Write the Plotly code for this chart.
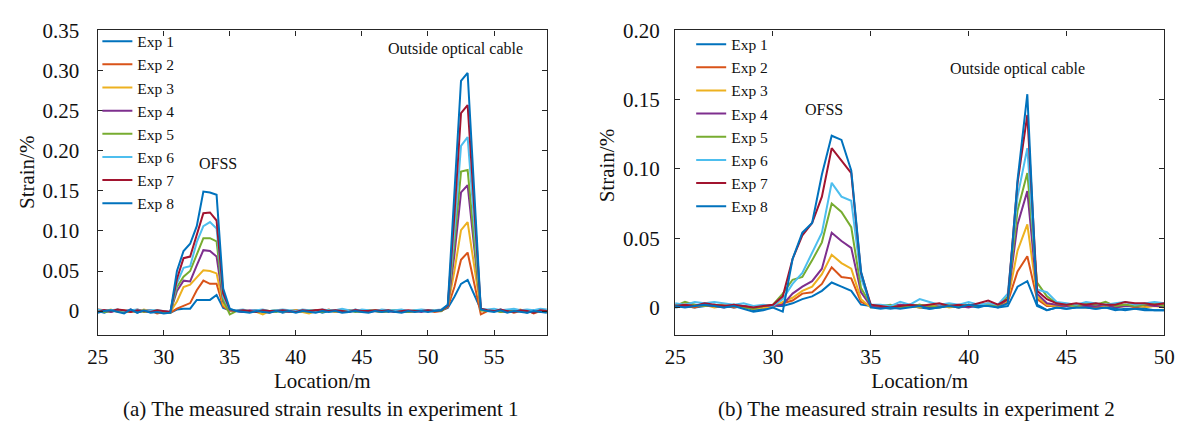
import numpy as np
import plotly.graph_objects as go

# ---- data: panel (a), experiment 1, sampled every 0.5 m from 25 m to 59 m ----
loc_a = np.arange(25.0, 59.01, 0.5)

exp1_a = [0.000, -0.002, 0.001, 0.000, -0.001, 0.001, -0.002, 0.001, 0.000, -0.002, -0.001,
          -0.002, 0.002, 0.003, 0.003, 0.014, 0.014, 0.014, 0.020, 0.004, 0.001,
          0.000, -0.001, 0.000, 0.001, -0.001, 0.000, 0.001, -0.002, 0.000, 0.001,
          -0.001, 0.000, 0.001, -0.002, 0.000, 0.001, 0.000, -0.001, 0.002, 0.000,
          -0.001, 0.001, 0.000, -0.001, 0.001, 0.000, -0.001, 0.000, 0.001, 0.000,
          0.000, 0.001,
          0.004, 0.018, 0.034, 0.039, 0.020, 0.002,
          0.001, 0.000, 0.002, -0.001, 0.000, 0.001, -0.002, 0.001, -0.001, 0.000]
exp2_a = [0.002, 0.001, -0.001, 0.002, 0.000, -0.001, 0.002, 0.000, 0.001, -0.003, -0.001,
          -0.002, 0.003, 0.006, 0.010, 0.026, 0.038, 0.034, 0.034, 0.006, 0.000,
          0.001, 0.000, -0.001, 0.001, 0.000, -0.002, 0.001, 0.000, -0.001, 0.001,
          0.000, -0.001, 0.001, 0.000, 0.002, -0.001, 0.000, 0.001, 0.000, -0.001,
          0.001, 0.000, -0.001, 0.001, 0.000, 0.001, -0.001, 0.000, 0.000, 0.001,
          -0.001, 0.000,
          0.005, 0.030, 0.064, 0.073, 0.036, -0.004,
          0.000, 0.002, -0.001, 0.001, -0.002, 0.000, 0.001, -0.003, 0.000, -0.001]
exp3_a = [0.001, 0.000, 0.002, -0.001, 0.001, 0.000, -0.001, 0.002, 0.000, -0.001, -0.002,
          -0.001, 0.012, 0.030, 0.033, 0.042, 0.051, 0.050, 0.047, 0.008, 0.000,
          0.000, 0.001, 0.000, -0.001, -0.004, 0.000, 0.001, -0.001, 0.000, 0.001,
          -0.001, -0.003, 0.000, 0.001, 0.000, -0.001, 0.001, 0.000, 0.001, -0.001,
          0.000, 0.001, -0.001, 0.000, 0.001, 0.000, 0.000, -0.001, 0.001, 0.000,
          0.000, 0.001,
          0.006, 0.050, 0.101, 0.111, 0.055, 0.001,
          0.001, 0.000, 0.001, -0.001, 0.000, 0.002, -0.001, 0.000, 0.001, -0.001]
exp4_a = [0.000, 0.001, -0.001, 0.001, 0.000, 0.002, -0.001, 0.000, 0.001, -0.001, 0.000,
          -0.001, 0.025, 0.038, 0.037, 0.057, 0.076, 0.075, 0.068, 0.012, 0.001,
          0.000, -0.001, 0.001, 0.000, 0.001, -0.001, 0.000, 0.001, -0.001, 0.000,
          0.001, 0.000, -0.001, 0.001, 0.000, 0.001, -0.001, 0.000, 0.001, 0.000,
          -0.001, 0.000, 0.001, 0.000, -0.001, 0.001, 0.000, 0.000, -0.001, 0.001,
          0.000, 0.000,
          0.006, 0.070, 0.148, 0.157, 0.078, 0.002,
          0.000, 0.001, 0.000, -0.001, 0.001, 0.000, -0.001, 0.001, 0.000, 0.000]
exp5_a = [0.001, -0.001, 0.000, 0.001, -0.001, 0.000, 0.001, -0.001, 0.000, 0.001, -0.001,
          -0.002, 0.030, 0.043, 0.050, 0.071, 0.091, 0.091, 0.087, 0.014, -0.004,
          0.000, 0.001, -0.001, 0.000, 0.001, 0.000, -0.001, 0.001, 0.000, -0.001,
          0.000, 0.001, 0.000, -0.001, 0.001, 0.000, 0.000, 0.001, -0.001, 0.000,
          0.001, 0.000, -0.001, 0.000, 0.001, 0.000, -0.001, 0.001, 0.000, 0.000,
          0.001, 0.000,
          0.007, 0.085, 0.174, 0.176, 0.088, 0.001,
          0.000, 0.001, -0.001, 0.000, 0.001, 0.000, 0.000, -0.001, 0.001, 0.000]
exp6_a = [0.002, 0.000, 0.001, 0.002, 0.000, 0.001, 0.002, 0.000, 0.001, 0.001, 0.000,
          -0.001, 0.035, 0.054, 0.056, 0.086, 0.106, 0.111, 0.103, 0.018, 0.002,
          0.001, 0.002, 0.000, 0.001, 0.002, 0.000, 0.001, 0.002, 0.001, 0.000,
          0.002, 0.001, 0.000, 0.002, 0.001, 0.001, 0.003, 0.001, 0.000, 0.002,
          0.001, 0.000, 0.002, 0.001, 0.001, 0.002, 0.000, 0.001, 0.002, 0.001,
          0.001, 0.002,
          0.008, 0.100, 0.206, 0.217, 0.108, 0.003,
          0.002, 0.003, 0.001, 0.002, 0.003, 0.001, 0.002, 0.001, 0.003, 0.002]
exp7_a = [-0.001, 0.001, 0.000, 0.002, 0.001, -0.001, 0.001, 0.000, -0.001, 0.001, 0.000,
          -0.001, 0.040, 0.066, 0.068, 0.094, 0.122, 0.123, 0.113, 0.022, 0.002,
          0.000, 0.001, 0.000, -0.001, 0.001, 0.000, 0.000, 0.001, 0.000, -0.001,
          0.001, 0.000, 0.001, 0.002, 0.000, 0.001, 0.000, -0.001, 0.001, 0.000,
          0.000, 0.001, 0.000, 0.001, -0.001, 0.000, 0.001, 0.000, 0.000, 0.001,
          0.000, 0.001,
          0.007, 0.120, 0.247, 0.257, 0.128, 0.003,
          0.001, 0.000, 0.002, 0.000, -0.001, 0.001, 0.000, -0.002, 0.001, 0.000]
exp8_a = [-0.002, 0.000, 0.001, -0.001, -0.003, 0.002, -0.002, 0.001, -0.002, -0.001, -0.003,
          -0.002, 0.050, 0.075, 0.084, 0.106, 0.149, 0.148, 0.145, 0.028, 0.003,
          0.000, -0.001, -0.002, 0.000, -0.001, -0.002, 0.000, -0.001, 0.000, -0.002,
          0.000, -0.001, -0.002, 0.000, -0.001, 0.000, -0.002, -0.001, 0.000, -0.001,
          -0.002, 0.000, -0.001, 0.000, -0.001, -0.002, 0.000, -0.001, 0.000, -0.001,
          0.000, 0.001,
          0.008, 0.140, 0.287, 0.297, 0.148, 0.002,
          0.000, -0.001, 0.001, -0.002, 0.000, -0.001, -0.002, 0.000, -0.001, -0.002]

# ---- data: panel (b), experiment 2, sampled every 0.5 m from 25 m to 50 m ----
loc_b = np.arange(25.0, 50.01, 0.5)

exp1_b = [0.000, 0.001, 0.000, 0.001, 0.002, 0.001, 0.000, 0.001, -0.002, -0.001,
          0.001, 0.001, 0.003, 0.006, 0.008, 0.012, 0.018, 0.015, 0.012, 0.002, 0.001,
          0.000, -0.001, 0.000, 0.001, 0.000, -0.001, 0.000, 0.001, 0.000, 0.001, 0.000, 0.002, 0.000,
          0.001, 0.015, 0.019, 0.001, -0.002, 0.000,
          -0.001, 0.000, 0.000, -0.001, 0.000, -0.002, -0.001, -0.001, -0.002, -0.002, -0.002]
exp2_b = [0.002, 0.001, 0.000, 0.002, 0.001, 0.002, 0.000, 0.001, 0.000, 0.001,
          0.001, 0.003, 0.005, 0.010, 0.011, 0.017, 0.029, 0.022, 0.021, 0.004, 0.001,
          0.001, 0.000, 0.001, 0.002, 0.000, 0.001, 0.002, 0.001, 0.000, 0.002, 0.001, 0.003, 0.001,
          0.004, 0.026, 0.037, 0.006, 0.001, 0.001,
          0.001, 0.002, 0.001, 0.000, 0.001, 0.001, 0.002, 0.000, 0.001, 0.001, 0.002]
exp3_b = [0.001, 0.002, 0.001, 0.002, 0.000, 0.001, 0.001, 0.000, -0.001, 0.000,
          0.000, 0.004, 0.007, 0.012, 0.015, 0.024, 0.038, 0.032, 0.028, 0.006, 0.000,
          0.001, 0.000, 0.002, 0.001, 0.000, 0.001, 0.002, 0.000, 0.001, 0.001, 0.002, 0.002, 0.001,
          0.005, 0.041, 0.060, 0.008, 0.002, 0.001,
          0.002, 0.001, 0.000, 0.002, 0.001, 0.000, 0.001, 0.002, 0.000, 0.001, 0.000]
exp4_b = [0.002, 0.001, 0.002, 0.001, 0.001, 0.000, 0.002, 0.001, 0.000, 0.001,
          0.001, 0.002, 0.010, 0.015, 0.019, 0.028, 0.054, 0.048, 0.043, 0.011, 0.001,
          0.000, 0.001, 0.002, 0.001, 0.002, 0.000, 0.001, 0.002, 0.001, 0.000, 0.002, 0.001, 0.001,
          0.006, 0.060, 0.084, 0.010, 0.003, 0.002,
          0.001, 0.002, 0.001, 0.001, 0.002, 0.000, 0.001, 0.001, 0.002, 0.001, 0.001]
exp5_b = [0.001, 0.004, 0.002, 0.001, 0.002, 0.001, 0.002, 0.000, -0.001, 0.001,
          0.002, 0.010, 0.020, 0.022, 0.034, 0.047, 0.075, 0.069, 0.058, 0.014, 0.002,
          0.001, 0.002, 0.000, 0.001, 0.002, 0.001, 0.000, 0.002, 0.001, 0.002, 0.001, 0.002, 0.001,
          0.008, 0.070, 0.097, 0.018, 0.008, 0.003,
          0.002, 0.001, 0.003, 0.002, 0.004, 0.001, 0.002, 0.001, 0.002, 0.003, 0.001]
exp6_b = [0.003, 0.002, 0.004, 0.003, 0.004, 0.003, 0.002, 0.003, 0.001, 0.002,
          0.001, 0.006, 0.017, 0.025, 0.039, 0.054, 0.090, 0.080, 0.077, 0.021, 0.002,
          0.002, 0.001, 0.004, 0.002, 0.006, 0.004, 0.002, 0.003, 0.002, 0.004, 0.002, 0.003, 0.002,
          0.010, 0.080, 0.115, 0.013, 0.011, 0.004,
          0.003, 0.002, 0.004, 0.003, 0.002, 0.003, 0.004, 0.002, 0.003, 0.004, 0.003]
exp7_b = [0.001, 0.002, 0.001, 0.003, 0.002, 0.001, 0.002, 0.001, 0.000, 0.001,
          0.002, 0.008, 0.035, 0.052, 0.061, 0.080, 0.115, 0.106, 0.097, 0.025, 0.002,
          0.001, 0.000, 0.001, 0.002, 0.001, 0.002, 0.003, 0.001, 0.002, 0.001, 0.003, 0.005, 0.002,
          0.006, 0.090, 0.139, 0.012, 0.006, 0.003,
          0.002, 0.003, 0.002, 0.003, 0.002, 0.002, 0.004, 0.003, 0.003, 0.002, 0.003]
exp8_b = [0.001, 0.000, 0.001, 0.002, 0.001, 0.000, 0.001, -0.001, -0.003, -0.002,
          0.000, -0.003, 0.035, 0.054, 0.061, 0.096, 0.124, 0.121, 0.099, 0.026, 0.000,
          -0.001, 0.000, -0.001, 0.000, 0.001, -0.001, 0.000, 0.001, 0.000, 0.002, 0.001, 0.001, 0.000,
          0.003, 0.092, 0.154, 0.002, -0.002, 0.000,
          -0.001, 0.000, 0.000, -0.001, 0.000, -0.001, -0.002, -0.001, -0.001, -0.002, -0.002]

series_names = ["Exp 1", "Exp 2", "Exp 3", "Exp 4", "Exp 5", "Exp 6", "Exp 7", "Exp 8"]
series_a = [exp1_a, exp2_a, exp3_a, exp4_a, exp5_a, exp6_a, exp7_a, exp8_a]
series_b = [exp1_b, exp2_b, exp3_b, exp4_b, exp5_b, exp6_b, exp7_b, exp8_b]

yticks_a = [0, 0.05, 0.10, 0.15, 0.20, 0.25, 0.30, 0.35]
yticktext_a = ["0", "0.05", "0.10", "0.15", "0.20", "0.25", "0.30", "0.35"]
yticks_b = [0, 0.05, 0.10, 0.15, 0.20]
yticktext_b = ["0", "0.05", "0.10", "0.15", "0.20"]
xticks_a = [25, 30, 35, 40, 45, 50, 55]
xticks_b = [25, 30, 35, 40, 45, 50]

# MATLAB-style line colour order (the eighth line wraps back to the first colour)
colors = ["#0072BD", "#D95319", "#EDB120", "#7E2F8E",
          "#77AC30", "#4DBEEE", "#A2142F", "#0072BD"]

FONT = "Liberation Serif"
INK = "#262626"
TEXT = "#111111"

fig = go.Figure()
for name, ys, c in zip(series_names, series_a, colors):
    fig.add_trace(go.Scatter(x=loc_a, y=ys, mode="lines", name=name,
                             line=dict(color=c, width=2),
                             xaxis="x", yaxis="y", legend="legend"))
for name, ys, c in zip(series_names, series_b, colors):
    fig.add_trace(go.Scatter(x=loc_b, y=ys, mode="lines", name=name,
                             line=dict(color=c, width=2),
                             xaxis="x2", yaxis="y2", legend="legend2"))

W, H = 1189, 427
y_dom = [1 - 332.5 / H, 1 - 19 / H]

axis_style = dict(showline=True, linecolor=INK, linewidth=1.3, mirror="ticks",
                  ticks="inside", ticklen=5, tickwidth=1.3, tickcolor=INK,
                  showgrid=False, zeroline=False,
                  tickfont=dict(family=FONT, size=21, color=TEXT))

fig.update_layout(
    width=W, height=H,
    margin=dict(l=0, r=0, t=0, b=0),
    paper_bgcolor="white", plot_bgcolor="white",
    font=dict(family=FONT, color=TEXT),
    xaxis=dict(domain=[88.3 / W, 546 / W], range=[25, 59], tickvals=xticks_a,
               anchor="y", ticklabelstandoff=2,
               title=dict(text="Location/m", font=dict(family=FONT, size=21, color=TEXT),
                          standoff=5),
               **axis_style),
    yaxis=dict(domain=y_dom, range=[-0.03, 0.35], tickvals=yticks_a, ticktext=yticktext_a,
               anchor="x", ticklabelstandoff=13, **axis_style),
    xaxis2=dict(domain=[676.7 / W, 1175 / W], range=[25, 50], tickvals=xticks_b,
                anchor="y2", ticklabelstandoff=2,
                title=dict(text="Location/m", font=dict(family=FONT, size=21, color=TEXT),
                           standoff=5),
                **axis_style),
    yaxis2=dict(domain=y_dom, range=[-0.02, 0.20], tickvals=yticks_b, ticktext=yticktext_b,
                anchor="x2", ticklabelstandoff=10, **axis_style),
    legend=dict(x=88 / W, y=1 - 13 / H, xanchor="left", yanchor="top",
                bgcolor="rgba(0,0,0,0)", borderwidth=0,
                font=dict(family=FONT, size=15.5, color=TEXT)),
    legend2=dict(x=693 / W, y=1 - 16 / H, xanchor="left", yanchor="top",
                 bgcolor="rgba(0,0,0,0)", borderwidth=0,
                 font=dict(family=FONT, size=15.5, color=TEXT)),
)

# vertical axis titles
title_font = dict(family=FONT, size=21, color=TEXT)
fig.add_annotation(x=17 / W, y=1 - 165 / H, xref="paper", yref="paper", text="Strain/%",
                   textangle=-90, showarrow=False, font=title_font,
                   xanchor="center", yanchor="middle")
fig.add_annotation(x=607 / W, y=1 - 158 / H, xref="paper", yref="paper", text="Strain/%",
                   textangle=-90, showarrow=False, font=title_font,
                   xanchor="center", yanchor="middle")

label_font = dict(family=FONT, size=16, color=TEXT)
fig.add_annotation(x=34.1, y=0.184, xref="x", yref="y", text="OFSS",
                   showarrow=False, font=label_font, xanchor="center")
fig.add_annotation(x=52.1, y=0.327, xref="x", yref="y", text="Outside optical cable",
                   showarrow=False, font=label_font, xanchor="center")
fig.add_annotation(x=32.6, y=0.143, xref="x2", yref="y2", text="OFSS",
                   showarrow=False, font=label_font, xanchor="center")
fig.add_annotation(x=42.5, y=0.172, xref="x2", yref="y2", text="Outside optical cable",
                   showarrow=False, font=label_font, xanchor="center")

caption_font = dict(family=FONT, size=21, color=TEXT)
fig.add_annotation(x=316 / W, y=1 - 408 / H, xref="paper", yref="paper",
                   text="(a) The measured strain results in experiment 1",
                   showarrow=False, font=caption_font, xanchor="center", yanchor="middle")
fig.add_annotation(x=923 / W, y=1 - 408 / H, xref="paper", yref="paper",
                   text="(b) The measured strain results in experiment 2",
                   showarrow=False, font=caption_font, xanchor="center", yanchor="middle")

fig.write_html("out.html")
